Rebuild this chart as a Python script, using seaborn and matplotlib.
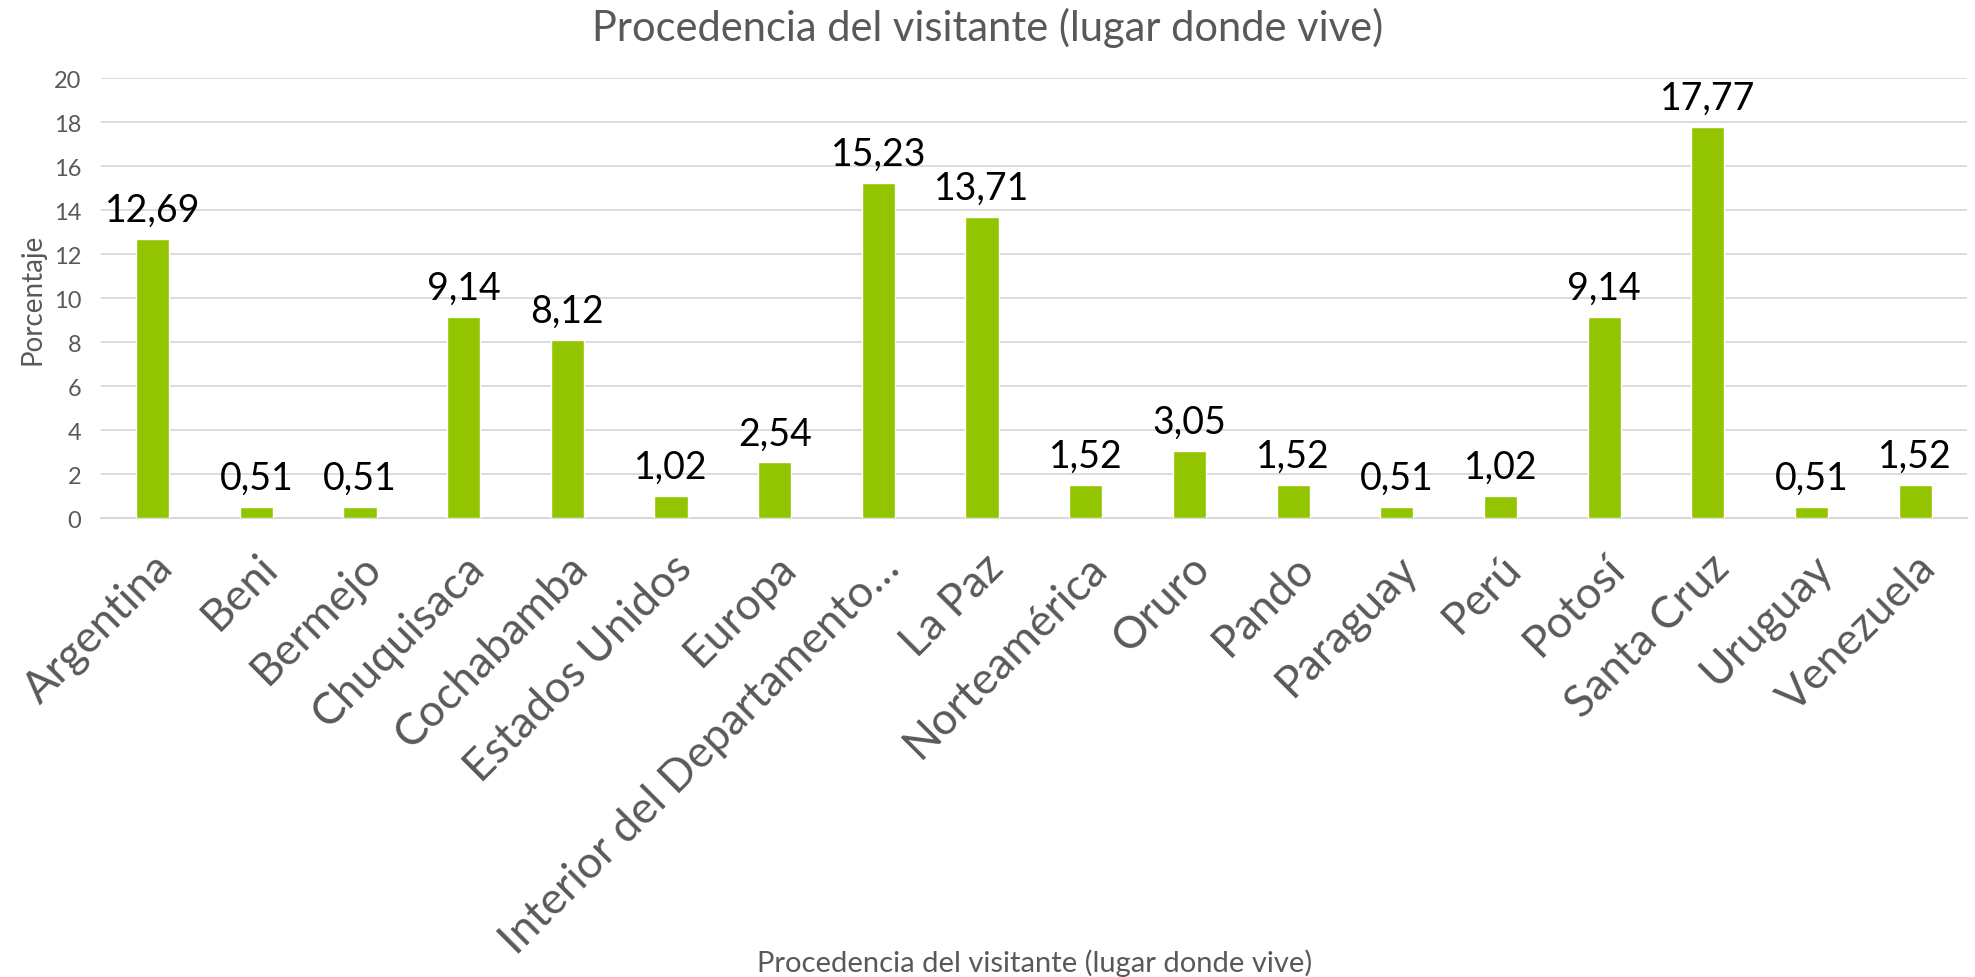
import matplotlib
matplotlib.use("Agg")
import matplotlib.pyplot as plt
import seaborn as sns

# Datos
categorias = ["Argentina", "Beni", "Bermejo", "Chuquisaca", "Cochabamba",
              "Estados Unidos", "Europa", "Interior del Departamento…",
              "La Paz", "Norteamérica", "Oruro", "Pando", "Paraguay", "Perú",
              "Potosí", "Santa Cruz", "Uruguay", "Venezuela"]
porcentajes = [12.69, 0.51, 0.51, 9.14, 8.12, 1.02, 2.54, 15.23, 13.71,
               1.52, 3.05, 1.52, 0.51, 1.02, 9.14, 17.77, 0.51, 1.52]
y_ticks = [0, 2, 4, 6, 8, 10, 12, 14, 16, 18, 20]

titulo = "Procedencia del visitante (lugar donde vive)"
eje_x = "Procedencia del visitante (lugar donde vive)"
eje_y = "Porcentaje"

sns.set_style("white")
plt.rcParams['font.family'] = ['Lato', 'DejaVu Sans']

verde = "#92C500"
gris = "#595959"

fig = plt.figure(figsize=(19.75, 9.78), dpi=100)
ax = fig.add_axes([0.051, 0.469, 0.945, 0.45])

sns.barplot(x=categorias, y=porcentajes, color=verde, width=0.32,
            saturation=1, ax=ax, zorder=3)

ax.set_ylim(0, 20)
ax.set_yticks(y_ticks)
ax.yaxis.grid(True, color="#D9D9D9", linewidth=1.3, zorder=0)
ax.set_axisbelow(True)
for s in ["top", "right", "left"]:
    ax.spines[s].set_visible(False)
ax.spines["bottom"].set_color("#D9D9D9")
ax.spines["bottom"].set_linewidth(1.5)
ax.tick_params(axis="both", length=0)
ax.tick_params(axis="y", labelsize=17, labelcolor=gris, pad=14)

# etiquetas del eje x rotadas
ax.set_xticks(range(len(categorias)))
ax.set_xticklabels(categorias, rotation=45, ha="right",
                   rotation_mode="anchor", fontsize=32, color=gris)
ax.tick_params(axis="x", pad=20)

# etiquetas de datos
for i, v in enumerate(porcentajes):
    ax.annotate(f"{v:.2f}".replace(".", ","), (i, v), xytext=(0, 8),
                textcoords="offset points", ha="center", va="bottom",
                fontsize=27, color="black")

ax.set_xlabel("")
ax.set_ylabel(eje_y, fontsize=20, color=gris, labelpad=6)

fig.suptitle(titulo, fontsize=30, color=gris, y=0.971, va="center")
fig.text(0.524, 0.015, eje_x, fontsize=21, color=gris, ha="center", va="center")

fig.savefig("out.png", dpi=100)
